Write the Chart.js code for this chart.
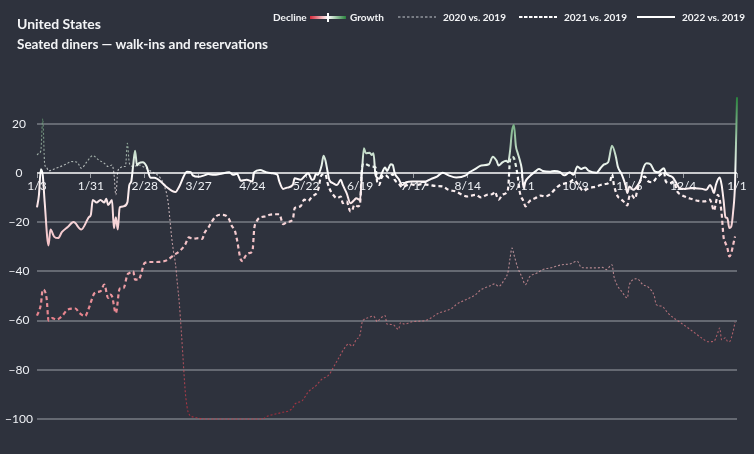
<!DOCTYPE html>
<html><head><meta charset="utf-8">
<script src="https://cdn.jsdelivr.net/npm/chart.js@4.4.1/dist/chart.umd.min.js"></script>
<style>
html,body{margin:0;padding:0;background:#2e323d;width:754px;height:454px;overflow:hidden;font-family:Lato,"Open Sans",sans-serif;color:#f3f4f6}
#wrap{position:relative;width:754px;height:454px}
#c{position:absolute;left:0;top:0}
#title{position:absolute;left:17px;top:14px;font-weight:700;font-size:14px;line-height:20px}
#title .sub{font-size:13.5px}
.lg{position:absolute;top:11px;font-size:10px;font-weight:700;line-height:13px;white-space:nowrap;color:#f3f4f6}
.sw{position:absolute;top:15px}
</style></head>
<body><div id="wrap">
<canvas id="c" width="754" height="454"></canvas>
<div id="title">United States<br><span class="sub">Seated diners — walk-ins and reservations</span></div>
<div class="lg" style="left:273px">Decline</div>
<div class="sw" style="left:310px;top:16px;width:36px;height:3px;background:linear-gradient(to right,rgb(214,40,57),#fff 50%,rgb(40,130,60))"></div>
<div class="sw" style="left:327px;top:13px;width:2px;height:9px;background:#fff"></div>
<div class="lg" style="left:350px">Growth</div>
<svg class="sw" style="left:398px;top:15px" width="38" height="4"><line x1="0" y1="2" x2="38" y2="2" stroke="#c4c7cd" stroke-width="1.2" stroke-dasharray="2.5,2"/></svg>
<div class="lg" style="left:443px">2020 vs. 2019</div>
<svg class="sw" style="left:519px;top:15px" width="38" height="4"><line x1="0" y1="2" x2="38" y2="2" stroke="#fff" stroke-width="2" stroke-dasharray="3.5,1.5"/></svg>
<div class="lg" style="left:564px">2021 vs. 2019</div>
<svg class="sw" style="left:637px;top:15px" width="38" height="4"><line x1="0" y1="2" x2="38" y2="2" stroke="#fff" stroke-width="2"/></svg>
<div class="lg" style="left:682px">2022 vs. 2019</div>
</div>
<script>
// x = day index from 1/3 (0) to 1/1 (364)
const tickDays = [0,28,56,84,112,140,168,196,224,252,280,308,336,364];
const tickLabels = ['1/3','1/31','2/28','3/27','4/24','5/22','6/19','7/17','8/14','9/11','10/9','11/6','12/4','1/1'];
const yTickValues = [-100,-80,-60,-40,-20,0,20];

const days2022 = [0,1,2,3,4,6,7,9,11,13,16,19,23,27,28,29,31,33,35,36,37,39,40,41,42,43,45,47,48,49,50,51,52,53,55,57,59,61,65,67,72,74,78,80,81,84,87,89,92,95,100,102,104,106,109,112,113,116,119,122,125,126,128,130,133,134,137,139,141,143,144,145,146,148,149,150,151,152,154,156,158,159,161,163,165,166,168,169,170,171,173,174,175,176,178,179,181,182,184,185,186,188,190,192,195,198,202,205,208,211,214,218,223,225,228,231,235,237,239,240,242,244,245,246,247,248,249,250,251,252,253,254,256,259,261,263,267,269,272,274,275,277,279,281,283,285,287,291,293,295,297,299,301,302,304,306,307,308,310,312,314,315,317,319,321,323,326,327,330,331,333,334,337,340,342,346,348,350,351,352,353,355,356,357,358,359,360,361,362,363,364];
const vals2022 = [-14,-9,1.5,-1,-12,-29.5,-23,-26,-26.5,-24,-22,-20,-23,-18,-17,-11,-12,-11,-12,-10.5,-13,-11,-22.5,-18,-23,-14,-13.6,-12,-5,-3.5,3,9,3,4,4.3,2.6,-2,-2,-4,-5.5,-7.8,-5.5,0.5,0.3,-1,-1.6,-1,-0.5,-0.8,-0.5,0.3,-0.8,-0.3,-3.2,-2.8,-3.5,0.3,1.2,0.3,-0.1,-0.8,-3.5,-6.5,-6,-4.9,-2.2,-2.8,-1.5,-0.1,-2.8,-2.5,-0.5,-0.8,3,7,5,1,-2.8,-4.2,-4.9,-2.8,-4.9,-8.2,-12.3,-11,-10.3,-11,0.5,10,8,8.2,7.3,8,-0.8,-2.4,-0.8,2.2,0.8,3.5,3.2,-0.1,-2.4,-4.9,-3.8,-3.5,-3.5,-3.5,-2.4,-1.5,0.1,-1,-1.9,-1,0.3,1.6,3,3.5,6.6,4.9,3,4.3,4.9,4.3,9,17,19.5,11,8,5.3,1.9,-6.2,-3.5,-1.5,0.5,1.6,0.8,0.5,0.8,0.3,-1,-0.8,0.3,-0.8,2.6,1.6,2.2,0.8,0.1,1.9,3.5,4.3,11,6.6,2.6,-0.5,-4.9,-8.2,-5.5,-6.9,-5.5,-2.4,1.2,3.9,3.5,0.8,0.3,1.9,-0.1,-1.5,-2.2,-4.9,-6.2,-6.5,-6.2,-6.2,-6.5,-6.9,-4.9,-6.2,-8.2,-4.9,-1.9,-4.9,-11,-18,-18.4,-22.4,-21.8,-15.7,-4,30.7];

const days2021 = [0,2,3,5,6,8,10,13,16,20,22,25,27,30,33,35,37,38,39,41,43,45,47,48,50,51,53,54,56,59,62,66,68,71,74,77,79,81,84,86,87,89,91,93,95,98,100,101,103,104,106,107,108,110,112,113,114,116,119,121,124,126,128,130,133,134,137,139,141,143,146,148,150,151,152,154,156,158,159,161,163,164,165,167,168,169,170,172,174,176,177,178,179,181,183,185,186,188,190,192,194,197,200,204,207,211,214,218,221,224,228,231,234,237,238,240,242,244,245,246,247,248,249,250,251,253,254,256,259,262,264,267,269,272,275,277,279,282,284,287,291,293,295,298,299,300,302,303,305,307,308,309,311,312,314,316,318,320,322,324,326,327,329,331,333,335,338,340,344,347,350,351,352,353,354,355,356,357,358,359,360,361,362,363];
const vals2021 = [-58,-53.5,-47.4,-51,-60,-59,-59.6,-58.2,-55.5,-55.1,-56.9,-58.2,-54.9,-48.8,-48.1,-45.4,-50.8,-49.5,-50.1,-57,-47,-46.8,-41.4,-40.7,-40,-43.4,-43.4,-41.4,-36.6,-36.2,-36.2,-35.9,-35.3,-33.5,-31.9,-29.2,-26.2,-26.8,-26.5,-26.8,-24.5,-22.4,-19.7,-17.7,-17,-17.3,-19,-21.1,-23.8,-27.2,-35.3,-35.9,-34.3,-32.6,-31.9,-22.4,-20,-18.1,-17.7,-17,-16.8,-16.8,-20.8,-20,-19,-14.3,-13.6,-10.9,-11.4,-9.6,-7.3,-0.8,-0.5,-3.8,-6.2,-8.9,-10.3,-9.6,-12.3,-11.6,-15.7,-15,-13,-13.6,-12.3,1.9,3.9,3.2,2.6,2.2,-4.2,-4.9,-2.2,-0.8,-1.9,-0.5,-2.8,-4.2,-5.9,-5.1,-4.6,-4.9,-4.6,-4.9,-5.3,-5.5,-6.9,-7.6,-8.9,-9.6,-8.9,-10,-8.9,-8.6,-7.6,-10.9,-8.9,-8.2,-6.2,5.3,6.5,6,3,-1.5,-7.6,-11.6,-13.6,-11.6,-10.3,-9.2,-9.6,-8.6,-6.9,-4.9,-4.2,-3.8,-2.8,-5.5,-7.3,-6.2,-5.5,-4.9,-4.6,-3.5,-0.5,-4.9,-9.6,-10.3,-11.6,-13.2,-9.6,-8.9,-10.5,-7.6,-2.8,-1.5,-3.5,-3.8,-2.2,-0.8,0.3,-3.5,-4.2,-3.5,-7.6,-8.9,-10,-10.5,-11.4,-11.6,-10.9,-13,-15.4,-12.3,-8.9,-10.9,-16.4,-26,-28.5,-30.5,-33.9,-32.6,-29.2,-25.8];

const days2020 = [0,1,2,3,4,5,6,9,11,15,18,21,23,26,29,32,35,37,39,40,41,42,43,45,46,47,48,50,53,56,59,61,64,66,68,69,70,71,72,73,74,75,76,77,78,79,82,88,100,117,120,125,127,133,134,138,141,145,148,152,154,157,160,162,164,166,168,169,170,172,175,177,178,181,182,185,188,189,191,195,198,202,205,209,212,216,218,223,228,231,235,238,240,243,245,246,247,248,250,252,254,256,260,263,268,273,277,281,283,287,291,294,296,299,300,302,304,307,308,312,315,318,321,322,325,328,331,334,338,342,346,349,352,354,355,356,358,359,360,362,363];
const vals2020 = [7.3,8,9,22,3.5,2.2,0.8,1.6,2.2,3.5,4.6,4.3,1.9,4.6,7,5.3,3.9,2.6,3.2,-0.1,-8.9,0.5,1.9,2.6,2.6,12,4,2.6,3.2,2.2,0.8,-0.1,-1.9,-4.9,-10.9,-18,-26,-32,-37,-45,-53,-64,-76,-88,-95,-98,-99.3,-100,-100,-100,-98.8,-97.8,-97.4,-95.5,-94,-92.5,-89,-86.5,-83.9,-81.9,-79.2,-75.1,-71.1,-69.5,-70.4,-67.7,-65.7,-60.9,-59.6,-58.9,-58.2,-60.5,-59.6,-58,-61.4,-61.6,-63.6,-60.9,-61.4,-60.5,-60.3,-60,-58.9,-56.9,-56.2,-54.9,-53.5,-51.5,-49.5,-47.4,-46.1,-45.1,-46.1,-43.4,-40,-34.6,-30.5,-33.2,-38.6,-42,-45.4,-42.4,-40.7,-39.3,-38.4,-37.3,-37,-35.9,-38.4,-38.6,-38.6,-38.4,-39.3,-37.3,-42,-46.1,-48.1,-50.8,-45.4,-43,-45.4,-46.5,-50.1,-53.5,-54.2,-56.9,-58.9,-60.5,-62.7,-65,-67.3,-68.6,-68.4,-65,-63,-67.8,-67,-68.4,-68.6,-64.3,-60.5];

const Y_MIN = -100, Y_MAX = 31;
const RED = [214,40,57], WHITE = [255,255,255], GREEN = [40,130,60];
const FONT = 'Lato, "Open Sans", sans-serif';
const TEXT = '#eef0f4';

function rgba(c,a){return 'rgba('+c[0]+','+c[1]+','+c[2]+','+a+')';}
function gradient(chart, alpha){
  const {ctx, chartArea, scales} = chart;
  if(!chartArea) return rgba(WHITE, alpha);
  const yTop = scales.y.getPixelForValue(Y_MAX), yBot = scales.y.getPixelForValue(Y_MIN), y0 = scales.y.getPixelForValue(0);
  const g = ctx.createLinearGradient(0, yTop, 0, yBot);
  g.addColorStop(0, rgba(GREEN, alpha));
  g.addColorStop((y0 - yTop)/(yBot - yTop), rgba(WHITE, alpha));
  g.addColorStop(1, rgba(RED, alpha));
  return g;
}
function pts(d, v){return d.map((x,i)=>({x:x, y:v[i]}));}

const mctx = document.createElement('canvas').getContext('2d');
mctx.font = '12px ' + FONT;
const widest = mctx.measureText('\u2212100').width;

new Chart(document.getElementById('c'), {
  type: 'line',
  data: { datasets: [
    { label:'2022 vs. 2019', data: pts(days2022, vals2022), borderColor: c => gradient(c.chart, 1), borderWidth: 2, pointRadius: 0, cubicInterpolationMode:'monotone', clip: 6 },
    { label:'2021 vs. 2019', data: pts(days2021, vals2021), borderColor: c => gradient(c.chart, 1), borderWidth: 2.2, borderDash:[4,3], pointRadius: 0, cubicInterpolationMode:'monotone', clip: 6 },
    { label:'2020 vs. 2019', data: pts(days2020, vals2020), borderColor: c => gradient(c.chart, 0.7), borderWidth: 1.1, borderDash:[2,2], pointRadius: 0, cubicInterpolationMode:'monotone', clip: 6 }
  ]},
  options: {
    responsive: false, animation: false, devicePixelRatio: 1,
    layout: { padding: { left: 0, top: 96.6, right: 17, bottom: 35 } },
    plugins: { legend: { display: false }, tooltip: { enabled: false } },
    scales: {
      x: {
        type: 'linear', position: { y: 0 }, min: 0, max: 364,
        afterBuildTicks: s => { s.ticks = tickDays.map(v => ({ value: v })); },
        ticks: { autoSkip: false, maxRotation: 0, color: TEXT, font: { family: FONT, size: 12 }, padding: 1,
                 callback: v => tickLabels[tickDays.indexOf(v)] },
        grid: { drawOnChartArea: false, drawTicks: true, tickLength: 5, color: '#9a9da4', lineWidth: 1 },
        border: { display: false }
      },
      y: {
        min: Y_MIN, max: Y_MAX,
        afterBuildTicks: s => { s.ticks = yTickValues.map(v => ({ value: v })); },
        afterFit: s => { s.width = 37; },
        ticks: { color: TEXT, font: { family: FONT, size: 12 }, crossAlign: 'center', padding: 18 - widest/2,
                 callback: v => String(v).replace('-', '\u2212') },
        grid: { drawTicks: false, lineWidth: 2, color: c => (c.tick && c.tick.value === 0) ? '#c9cacd' : '#656972' },
        border: { display: false }
      }
    }
  }
});
</script>
</body></html>
